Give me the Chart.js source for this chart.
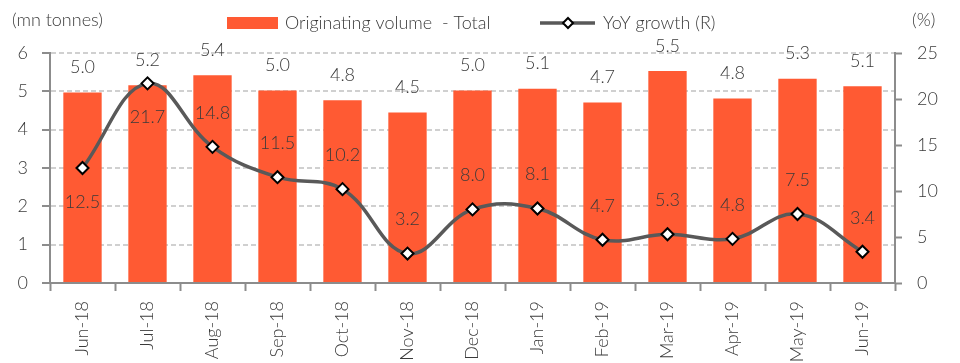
<!DOCTYPE html>
<html>
<head>
<meta charset="utf-8">
<script src="https://cdn.jsdelivr.net/npm/chart.js@4/dist/chart.umd.min.js"></script>
<style>
  body { margin: 0; background: #fff; }
  canvas { display: block; }
</style>
</head>
<body>
<canvas id="chart" width="960" height="363"></canvas>
<script>
// Chart data
const months = ["Jun-18", "Jul-18", "Aug-18", "Sep-18", "Oct-18", "Nov-18", "Dec-18",
  "Jan-19", "Feb-19", "Mar-19", "Apr-19", "May-19", "Jun-19"]
const volume = [4.97, 5.16, 5.42, 5.02, 4.77, 4.45, 5.02, 5.07, 4.71, 5.53, 4.81, 5.33, 5.13]
const growth = [12.5, 21.7, 14.8, 11.5, 10.2, 3.2, 8.0, 8.1, 4.7, 5.3, 4.8, 7.5, 3.4]
const growthLabelSide = ["below", "below", "above", "above", "above", "above", "above",
  "above", "above", "above", "above", "above", "above"]
const leftTicks = [0, 1, 2, 3, 4, 5, 6]
const rightTicks = [0, 5, 10, 15, 20, 25]

const FONT = "Lato"
const SIZE = 18
const TEXT = "#3a3a3a"
const BAR = "#ff5a33"
const LINE = "#595959"
const AXIS = "#8c8c8c"

// Value labels, legend and axis units
const labelsPlugin = {
  id: "labels",
  afterDatasetsDraw(chart) {
    const ctx = chart.ctx
    ctx.save()
    ctx.font = `300 ${SIZE}px ${FONT}`
    ctx.fillStyle = TEXT
    ctx.textAlign = "center"
    ctx.textBaseline = "middle"
    // dataset 1 = bars, dataset 0 = line
    chart.getDatasetMeta(1).data.forEach((bar, i) => {
      ctx.fillText(volume[i].toFixed(1), bar.x, bar.y - 25)
    })
    chart.getDatasetMeta(0).data.forEach((pt, i) => {
      const dy = growthLabelSide[i] === "below" ? 34 : -34
      ctx.fillText(growth[i].toFixed(1), pt.x, pt.y + dy)
    })
    ctx.restore()
  },
  afterDraw(chart) {
    const ctx = chart.ctx
    ctx.save()
    ctx.font = `300 ${SIZE}px ${FONT}`
    ctx.fillStyle = TEXT
    ctx.textBaseline = "middle"
    ctx.textAlign = "left"
    ctx.fillText("(mn tonnes)", 12, 20)
    ctx.fillText("(%)", 912, 20)

    // legend: bars
    ctx.fillStyle = BAR
    ctx.fillRect(227, 17, 51, 12)
    ctx.fillStyle = TEXT
    ctx.fillText("Originating volume  - Total", 285, 23)

    // legend: line
    ctx.strokeStyle = LINE
    ctx.lineWidth = 3.5
    ctx.beginPath()
    ctx.moveTo(540, 23)
    ctx.lineTo(595, 23)
    ctx.stroke()
    ctx.fillStyle = "#fff"
    ctx.strokeStyle = "#000"
    ctx.lineWidth = 2
    ctx.beginPath()
    ctx.moveTo(568, 18)
    ctx.lineTo(573, 23)
    ctx.lineTo(568, 28)
    ctx.lineTo(563, 23)
    ctx.closePath()
    ctx.fill()
    ctx.stroke()
    ctx.fillStyle = TEXT
    ctx.fillText("YoY growth (R)", 603, 23)
    ctx.restore()
  },
}

const tickFont = { family: FONT, size: SIZE, weight: "300" }

new Chart(document.getElementById("chart"), {
  data: {
    labels: months,
    datasets: [
      {
        type: "line",
        label: "YoY growth (R)",
        data: growth,
        yAxisID: "yR",
        borderColor: LINE,
        borderWidth: 3.5,
        tension: 0.4,
        pointStyle: "rectRot",
        pointRadius: 6,
        pointBackgroundColor: "#fff",
        pointBorderColor: "#000",
        pointBorderWidth: 2,
        order: 0,
      },
      {
        type: "bar",
        label: "Originating volume - Total",
        data: volume,
        yAxisID: "y",
        backgroundColor: BAR,
        barPercentage: 0.59,
        categoryPercentage: 1,
        order: 1,
      },
    ],
  },
  options: {
    responsive: false,
    animation: false,
    layout: { padding: { top: 53, left: 0, right: 0, bottom: 0 } },
    plugins: { legend: { display: false }, tooltip: { enabled: false } },
    scales: {
      x: {
        offset: true,
        grid: {
          offset: true,
          drawOnChartArea: false,
          tickLength: 8,
          tickColor: AXIS,
          tickWidth: 2,
        },
        border: { color: AXIS, width: 2 },
        ticks: {
          color: TEXT,
          font: tickFont,
          minRotation: 90,
          maxRotation: 90,
          padding: 10,
        },
        afterFit(scale) { scale.height = 80 },
      },
      y: {
        position: "left",
        min: 0,
        max: 6,
        afterBuildTicks(scale) { scale.ticks = leftTicks.map((v) => ({ value: v })) },
        grid: {
          color: "#d0d0d0",
          lineWidth: 2,
          tickLength: 8,
          tickColor: AXIS,
          tickWidth: 2,
          tickBorderDash: [],
        },
        border: { color: AXIS, width: 2, dash: [5, 3] },
        ticks: {
          color: TEXT,
          font: tickFont,
          padding: 14,
        },
        afterFit(scale) { scale.width = 50 },
      },
      yR: {
        position: "right",
        min: 0,
        max: 25,
        afterBuildTicks(scale) { scale.ticks = rightTicks.map((v) => ({ value: v })) },
        grid: {
          drawOnChartArea: false,
          tickLength: 7,
          tickColor: AXIS,
          tickWidth: 2,
        },
        border: { color: AXIS, width: 2 },
        ticks: {
          color: TEXT,
          font: tickFont,
          padding: 15,
        },
        afterFit(scale) { scale.width = 65 },
      },
    },
  },
  plugins: [labelsPlugin],
})
</script>
</body>
</html>
